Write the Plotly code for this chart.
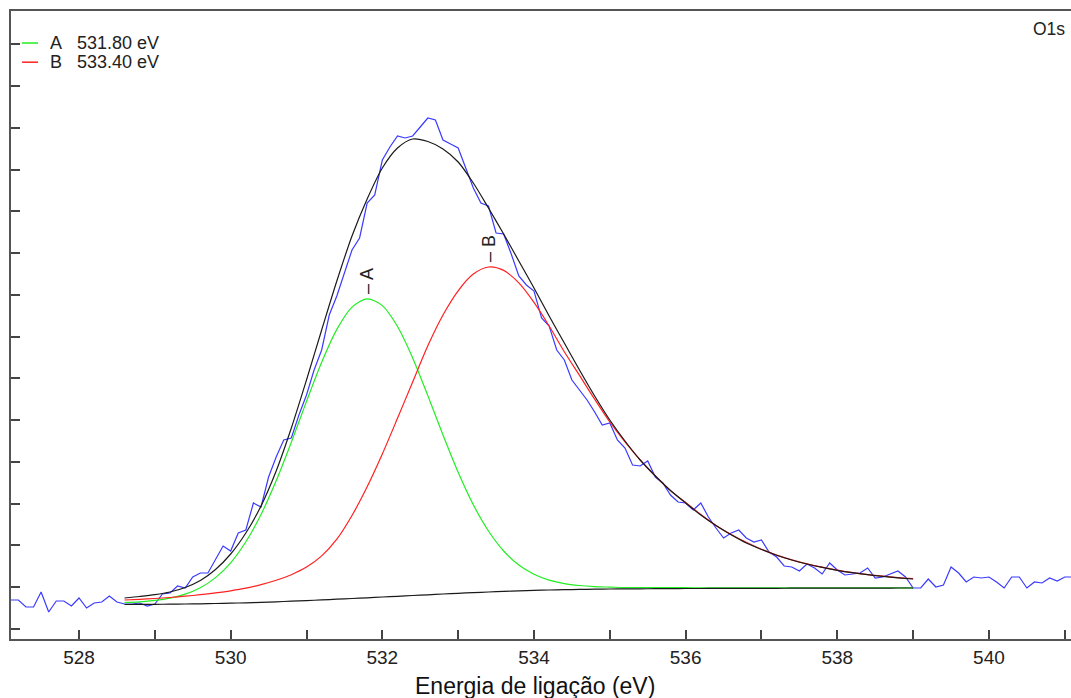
import plotly.graph_objects as go

# ---------------- data (intensity in arbitrary units) ----------------
energy_raw = [527.1, 527.2, 527.3, 527.4, 527.5, 527.6, 527.7, 527.8, 527.9,
              528.0, 528.1, 528.2, 528.3, 528.4, 528.5, 528.6, 528.7, 528.8, 528.9,
              529.0, 529.1, 529.2, 529.3, 529.4, 529.5, 529.6, 529.7, 529.8, 529.9,
              530.0, 530.1, 530.2, 530.3, 530.4, 530.5, 530.6, 530.7, 530.8, 530.9,
              531.0, 531.1, 531.2, 531.3, 531.4, 531.5, 531.6, 531.7, 531.8, 531.9,
              532.0, 532.1, 532.2, 532.3, 532.4, 532.5, 532.6, 532.7, 532.8, 532.9,
              533.0, 533.1, 533.2, 533.3, 533.4, 533.5, 533.6, 533.7, 533.8, 533.9,
              534.0, 534.1, 534.2, 534.3, 534.4, 534.5, 534.6, 534.7, 534.8, 534.9,
              535.0, 535.1, 535.2, 535.3, 535.4, 535.5, 535.6, 535.7, 535.8, 535.9,
              536.0, 536.1, 536.2, 536.3, 536.4, 536.5, 536.6, 536.7, 536.8, 536.9,
              537.0, 537.1, 537.2, 537.3, 537.4, 537.5, 537.6, 537.7, 537.8, 537.9,
              538.0, 538.1, 538.2, 538.3, 538.4, 538.5, 538.6, 538.7, 538.8, 538.9,
              539.0, 539.1, 539.2, 539.3, 539.4, 539.5, 539.6, 539.7, 539.8, 539.9,
              540.0, 540.1, 540.2, 540.3, 540.4, 540.5, 540.6, 540.7, 540.8, 540.9,
              541.0, 541.1]
counts_raw = [29, 29, 22, 22, 37, 17, 28, 28, 23,
              31, 21, 26, 27, 33, 27, 25, 25, 26, 23,
              25, 35, 36, 43, 41, 52, 56, 56, 69, 83,
              78, 96, 99, 126, 122, 152, 172, 189, 191, 214,
              234, 259, 279, 314, 333, 357, 379, 391, 426, 434,
              469, 482, 493, 491, 493, 502, 511, 509, 489, 485,
              481, 461, 441, 426, 423, 396, 395, 375, 353, 344,
              338, 311, 303, 279, 269, 249, 239, 229, 217, 204,
              206, 189, 181, 164, 163, 168, 152, 146, 134, 127,
              126, 119, 126, 112, 101, 91, 96, 99, 91, 87,
              89, 77, 72, 63, 62, 58, 65, 61, 55, 66,
              59, 54, 55, 56, 61, 51, 52, 55, 58, 52,
              41, 41, 50, 42, 44, 62, 56, 47, 52, 51,
              52, 47, 41, 52, 52, 41, 47, 46, 51, 48,
              52, 52]

energy_fit = [528.6, 528.8, 529.0, 529.2, 529.4, 529.6, 529.8, 530.0, 530.2, 530.4,
              530.6, 530.8, 531.0, 531.2, 531.4, 531.6, 531.8, 532.0, 532.2, 532.4,
              532.6, 532.8, 533.0, 533.2, 533.4, 533.6, 533.8, 534.0, 534.2, 534.4,
              534.6, 534.8, 535.0, 535.2, 535.4, 535.6, 535.8, 536.0, 536.2, 536.4,
              536.6, 536.8, 537.0, 537.2, 537.4, 537.6, 537.8, 538.0, 538.2, 538.4,
              538.6, 538.8, 539.0]
background = [24.5, 24.6, 24.7, 24.8, 25.0, 25.2, 25.5, 25.8, 26.2, 26.7,
              27.2, 27.8, 28.4, 29.1, 29.8, 30.5, 31.2, 32.0, 32.7, 33.5,
              34.2, 35.0, 35.7, 36.4, 37.0, 37.6, 38.1, 38.6, 39.0, 39.3,
              39.6, 39.8, 40.0, 40.1, 40.2, 40.3, 40.4, 40.5, 40.5, 40.6,
              40.6, 40.7, 40.7, 40.7, 40.8, 40.8, 40.8, 40.9, 40.9, 40.9,
              40.9, 41.0, 41.0]
peak_A = [26.4, 27.2, 28.6, 30.9, 34.9, 41.3, 51.4, 66.2, 87.2, 114.5,
          148.2, 186.8, 227.6, 266.7, 299.6, 321.9, 330.2, 323.4, 302.5, 271.1,
          233.4, 194.0, 156.7, 124.2, 98.0, 78.0, 64.0, 54.7, 48.9, 45.4,
          43.5, 42.4, 41.9, 41.4, 41.3, 41.3, 41.3, 41.3, 41.2, 41.2,
          41.2, 41.2, 41.2, 41.1, 41.2, 41.2, 41.1, 41.2, 41.2, 41.2,
          41.2, 41.2, 41.2]
peak_B = [29.0, 29.7, 30.5, 31.5, 32.8, 34.3, 36.1, 38.2, 40.8, 44.3,
          48.7, 54.3, 61.9, 73.1, 89.8, 113.5, 142.2, 175.0, 210.7, 247.0,
          283.2, 314.0, 338.2, 354.9, 362.0, 358.6, 346.1, 326.6, 303.0, 277.3,
          253.6, 229.8, 207.0, 187.1, 169.2, 153.3, 138.4, 126.5, 114.5, 103.6,
          94.6, 86.7, 79.7, 73.9, 69.2, 65.2, 61.8, 58.9, 56.4, 54.4,
          52.8, 51.4, 50.3]
envelope = [31.0, 32.5, 34.3, 37.0, 41.5, 48.5, 59.5, 75.0, 96.0, 123.0,
            158.0, 201.0, 249.0, 299.0, 348.0, 393.0, 430.0, 461.0, 481.0, 490.0,
            487.5, 480.0, 467.0, 446.0, 421.0, 395.0, 368.0, 341.0, 313.0, 286.0,
            259.0, 233.0, 209.0, 188.0, 169.0, 153.0, 138.5, 126.0, 114.0, 103.5,
            94.2, 86.0, 79.5, 73.8, 69.0, 65.0, 61.6, 58.7, 56.3, 54.3,
            52.6, 51.2, 50.0]

peak_names = ["A", "B"]
peak_positions = [531.80, 533.40]
peak_heights = [330.2, 362.0]

x_tickvals = [528, 529, 530, 531, 532, 533, 534, 535, 536, 537, 538, 539, 540, 541]
x_ticktext = ["528", "", "530", "", "532", "", "534", "", "536", "", "538", "", "540", ""]
y_tickvals = [0, 41.77, 83.54, 125.31, 167.08, 208.85, 250.62, 292.39, 334.16,
              375.93, 417.7, 459.47, 501.24, 543.01, 584.78]

FONT = "Arial, Liberation Sans, sans-serif"
BLUE = "#3a3aff"
GREEN = "#22ee22"
RED = "#ff2020"
BLACK = "#1a1a1a"

fig = go.Figure()
fig.add_trace(go.Scatter(x=energy_raw, y=counts_raw, mode="lines",
                         line=dict(color=BLUE, width=1.2), name="O1s"))
fig.add_trace(go.Scatter(x=energy_fit, y=peak_A, mode="lines",
                         line=dict(color=GREEN, width=1.2, shape="spline", smoothing=0.8),
                         name="A"))
fig.add_trace(go.Scatter(x=energy_fit, y=peak_B, mode="lines",
                         line=dict(color=RED, width=1.2, shape="spline", smoothing=0.8),
                         name="B"))
fig.add_trace(go.Scatter(x=energy_fit, y=background, mode="lines",
                         line=dict(color=BLACK, width=1.2, shape="spline", smoothing=0.6),
                         name="background"))
fig.add_trace(go.Scatter(x=energy_fit, y=envelope, mode="lines",
                         line=dict(color=BLACK, width=1.2, shape="spline", smoothing=0.8),
                         name="envelope"))

# peak markers (rotated labels)
for nm, px, ph in zip(peak_names, peak_positions, peak_heights):
    fig.add_annotation(x=px, y=ph, text="\u2013 " + nm, textangle=-90, showarrow=False,
                       xanchor="center", yanchor="bottom", yshift=3,
                       font=dict(family=FONT, size=18, color="#222"))

# legend (drawn manually to match the small line samples)
legend_items = [("A", "531.80 eV", GREEN), ("B", "533.40 eV", RED)]
for i, (nm, txt, col) in enumerate(legend_items):
    yp = 0.949 - i * 0.0305
    fig.add_shape(type="line", xref="paper", yref="paper",
                  x0=0.0104, x1=0.0255, y0=yp, y1=yp,
                  line=dict(color=col, width=1.5))
    fig.add_annotation(xref="paper", yref="paper", x=0.0349, y=yp,
                       text=nm + "\u00a0\u00a0\u00a0" + txt, showarrow=False,
                       xanchor="left", yanchor="middle",
                       font=dict(family=FONT, size=18, color="#222"))

fig.add_annotation(xref="paper", yref="paper", x=1, y=0.9713, xshift=-4,
                   text="O1s", showarrow=False, xanchor="right", yanchor="middle",
                   font=dict(family=FONT, size=17.5, color="#222"))

fig.add_annotation(xref="paper", yref="paper", x=0.494, y=-0.0745,
                   text="Energia de ligação (eV)", showarrow=False,
                   xanchor="center", yanchor="middle",
                   font=dict(family=FONT, size=23, color="#111"))

fig.update_layout(
    width=1071, height=698,
    margin=dict(l=11, r=0, t=11, b=59),
    paper_bgcolor="white", plot_bgcolor="white",
    showlegend=False,
    font=dict(family=FONT, size=19, color="#222"),
)
fig.update_xaxes(range=[527.103, 541.082], tickvals=x_tickvals, ticktext=x_ticktext,
                 ticks="inside", ticklen=9, tickwidth=1.5, tickcolor="#444",
                 showline=True, linecolor="#555", linewidth=1.5, mirror=True,
                 showgrid=False, zeroline=False,
                 tickfont=dict(family=FONT, size=19, color="#222"))
fig.update_yaxes(range=[-10, 618], tickvals=y_tickvals, showticklabels=False,
                 ticks="inside", ticklen=9, tickwidth=1.5, tickcolor="#444",
                 showline=True, linecolor="#555", linewidth=1.5,
                 showgrid=False, zeroline=False)

fig.write_html("out.html", config={"displayModeBar": False},
               post_script="document.body.style.margin='0px';"
                           "document.body.style.overflow='hidden';")
